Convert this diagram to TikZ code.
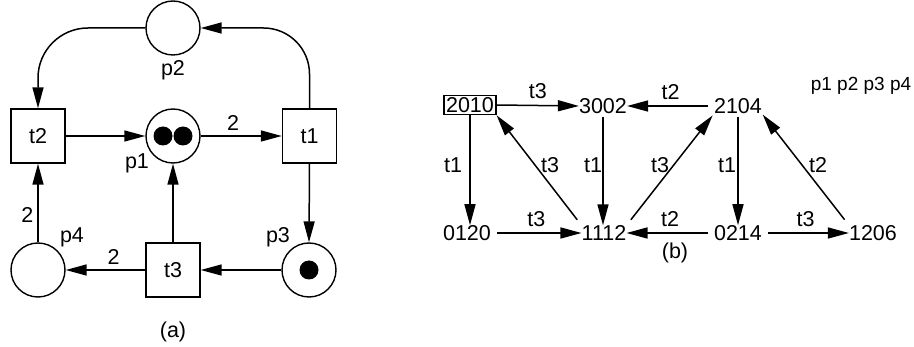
\documentclass[tikz,border=0pt]{standalone}
\usepackage{fontspec}
\setmainfont{Liberation Sans}
\usetikzlibrary{arrows.meta}
\begin{document}
\begin{tikzpicture}[x=1pt,y=-1pt,
  font=\fontsize{21.5}{25}\selectfont,
  arc/.style={line width=1.5pt,-{Triangle[length=21pt,width=11pt]}},
  place/.style={circle,draw,line width=1.4pt,minimum size=54pt,inner sep=0pt},
  trans/.style={rectangle,draw,line width=1.4pt,minimum size=54pt,inner sep=0pt},
  token/.style={circle,fill=black,minimum size=19pt,inner sep=0pt},
  state/.style={inner sep=0pt},
  lbl/.style={inner sep=0pt}]
\useasboundingbox (0,0) rectangle (914,347);

% ---- (a) Petri net ----
\node[place] (p2) at (173,28) {};
\node[place] (p1) at (173,136) {};
\node[place] (p4) at (38,270) {};
\node[place] (p3) at (309,270) {};
\node[trans] (t2) at (38,136) {t2};
\node[trans] (t1) at (309.5,136) {t1};
\node[trans] (t3) at (173,270) {t3};

\node[token] (k1) at (163,136) {};
\node[token] (k2) at (183,136) {};
\node[token] (k3) at (309,270) {};

\node[lbl] (lp2) at (173,70) {p2};
\node[lbl] (lp1) at (137,163) {p1};
\node[lbl] (lp4) at (72,237) {p4};
\node[lbl] (lp3) at (278,237) {p3};

\draw[arc,rounded corners=50pt] (p2.west) -| (t2.north);
\draw[arc,rounded corners=46pt] (t1.north) |- (p2.east);
\draw[arc] (t2.east) -- (p1.west);
\draw[arc] (p1.east) -- node[lbl,above=5pt,pos=0.4] (w1) {2} (t1.west);
\draw[arc] (t1.south) -- (p3.north);
\draw[arc] (p3.west) -- (t3.east);
\draw[arc] (t3.west) -- node[lbl,above=5pt,xshift=8pt] (w2) {2} (p4.east);
\draw[arc] (t3.north) -- (p1.south);
\draw[arc] (p4.north) -- node[lbl,left=4pt,pos=0.35] (w3) {2} (t2.south);

\node[lbl] (capa) at (173,332) {(a)};

% ---- (b) reachability graph ----
\node[draw,line width=1.4pt,inner sep=2pt] (s2010) at (470,105) {2010};
\node[state] (s3002) at (603,106) {3002};
\node[state] (s2104) at (738,106) {2104};
\node[state] (s0120) at (467,233) {0120};
\node[state] (s1112) at (604,233) {1112};
\node[state] (s0214) at (738,233) {0214};
\node[state] (s1206) at (873,233) {1206};

\node[lbl,font=\fontsize{19}{23}\selectfont] (hdr) at (861,86) {p1 p2 p3 p4};

\draw[arc] (s2010.east) -- node[lbl,above=6pt] {t3} (s3002.west);
\draw[arc,shorten <=6pt] (s2104.west) -- node[lbl,above=6pt] {t2} (s3002.east);
\draw[arc] (s2010.south) -- (s2010.south |- s0120.north);
\draw[arc,shorten <=7pt] (s1112.north west) -- (s2010.south east);
\draw[arc,shorten <=3pt] (s3002.south) -- (s3002.south |- s1112.north);
\draw[arc,shorten <=7pt,shorten >=2pt] (s1112.north east) -- (s2104.south west);
\draw[arc,shorten <=3pt] (s2104.south) -- (s2104.south |- s0214.north);
\draw[arc,shorten <=7pt,shorten >=1pt] (s1206.north west) -- (s2104.south east);
\draw[arc,shorten <=6pt] (s0120.east) -- node[lbl,above=6pt] {t3} (s1112.west);
\draw[arc,shorten <=6pt] (s0214.west) -- node[lbl,above=6pt] {t2} (s1112.east);
\draw[arc,shorten <=6pt] (s0214.east) -- node[lbl,above=6pt] {t3} (s1206.west);

% transition labels of the vertical and slanted arcs
\node[lbl] (e1) at (453,165) {t1};
\node[lbl] (e2) at (550,165) {t3};
\node[lbl] (e3) at (593,165) {t1};
\node[lbl] (e4) at (660,165) {t3};
\node[lbl] (e5) at (727,165) {t1};
\node[lbl] (e6) at (818,165) {t2};

\node[lbl] (capb) at (675,253) {(b)};
\end{tikzpicture}
\end{document}
